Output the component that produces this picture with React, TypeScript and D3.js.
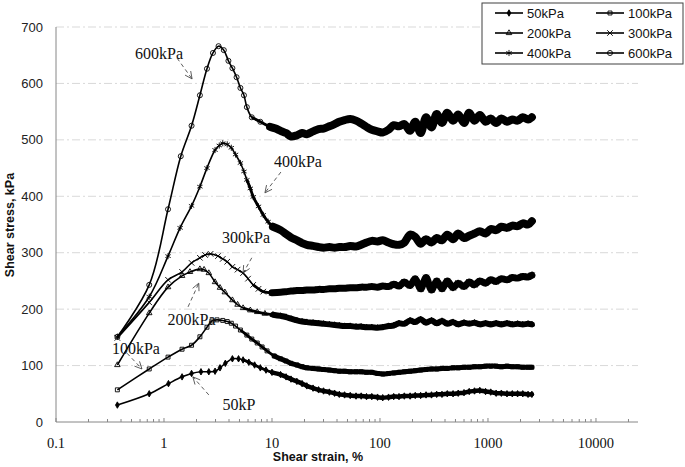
import * as d3 from 'd3';
import React from 'react';

// strains (%) shared by the noisy residual part of every curve
const strainTail = [12, 13.5, 15, 17, 19, 21, 24, 27, 30, 34, 38, 42, 47, 53, 60, 67, 75, 84, 95, 106,
    120, 134, 150, 168, 190, 212, 238, 267, 300, 335, 375, 420, 475, 530, 600, 670, 750, 840, 950, 1060,
    1190, 1330, 1500, 1680, 1880, 2100, 2350, 2550];

// 50kPa
const strain50 = [0.37, 0.73, 1.1, 1.47, 1.8, 2.2, 2.6, 2.97, 3.3, 3.7, 4.3, 4.9, 5.4, 6.1, 6.9, 7.8, 8.8, 10];
const stress50 = [30, 50, 68, 80, 86, 89, 89, 90, 96, 104, 112, 112, 110, 106, 101, 96, 92, 88];
const tail50 = [84, 80, 76, 72, 68, 64, 60, 57, 55, 53, 51, 49, 48, 47, 46, 46, 45, 45, 44, 43,
    44, 45, 45, 46, 46, 47, 47, 48, 48, 49, 49, 50, 50, 51, 52, 54, 55, 56, 54, 53,
    51, 51, 50, 50, 50, 50, 49, 49];

// 100kPa
const strain100 = [0.37, 0.73, 1.09, 1.47, 1.8, 2.15, 2.5, 2.78, 3.1, 3.5, 3.85, 4.2, 4.6, 5.1, 5.85, 6.5, 7.3, 8.1, 9.0, 10.5];
const stress100 = [57, 94, 115, 129, 136, 151, 168, 179, 181, 180, 178, 175, 170, 163, 154, 147, 140, 133, 126, 117];
const tail100 = [112, 108, 104, 101, 98, 96, 95, 94, 93, 92, 91, 90, 90, 89, 89, 89, 88, 88, 86, 85,
    86, 87, 88, 89, 90, 91, 92, 93, 94, 94, 95, 95, 96, 96, 97, 97, 98, 98, 99, 99,
    99, 98, 99, 98, 98, 97, 97, 97];

// 200kPa
const strain200 = [0.37, 0.73, 1.09, 1.47, 1.74, 2.15, 2.35, 2.6, 2.97, 3.3, 3.66, 4.3, 4.8, 5.4, 6.3, 7.3, 8.6, 10.2];
const stress200 = [101, 193, 239, 259, 266, 271, 270, 264, 248, 238, 230, 216, 208, 202, 198, 195, 192, 190];
const tail200 = [188, 186, 183, 180, 178, 177, 176, 175, 174, 173, 172, 171, 170, 170, 169, 169, 168, 168, 167, 168,
    170, 171, 175, 174, 180, 177, 182, 176, 180, 175, 179, 174, 177, 173, 176, 174, 176, 173, 175, 173,
    175, 173, 175, 173, 174, 173, 174, 173];

// 300kPa
const strain300 = [0.37, 0.73, 1.09, 1.47, 1.8, 2.15, 2.4, 2.7, 3.16, 3.5, 3.85, 4.3, 4.8, 5.4, 6.0, 6.7, 7.5, 8.3, 10];
const stress300 = [149, 212, 252, 266, 282, 291, 296, 298, 294, 289, 284, 275, 270, 264, 254, 243, 236, 231, 229];
const tail300 = [230, 231, 232, 233, 233, 234, 234, 235, 235, 236, 236, 237, 237, 238, 238, 239, 239, 240, 239, 241,
    240, 244, 241, 248, 242, 254, 236, 256, 234, 250, 236, 250, 238, 246, 240, 248, 243, 250, 246, 252,
    249, 254, 252, 256, 255, 258, 257, 260];

// 400kPa
const strain400 = [0.37, 0.73, 1.09, 1.41, 1.8, 2.15, 2.5, 2.97, 3.25, 3.5, 3.85, 4.2, 4.6, 5.1, 5.5, 5.85, 6.3, 6.7, 7.5, 8.3, 9.2, 10.2];
const stress400 = [151, 222, 294, 344, 383, 417, 450, 482, 490, 494, 492, 486, 474, 459, 444, 429, 414, 399, 382, 367, 355, 346];
const tail400 = [340, 333, 327, 322, 317, 314, 312, 310, 309, 310, 309, 310, 310, 312, 311, 314, 318, 321, 320, 322,
    318, 315, 314, 318, 332, 328, 316, 324, 318, 326, 322, 332, 324, 334, 326, 330, 334, 338, 334, 342,
    340, 346, 344, 348, 347, 352, 350, 356];

// 600kPa
const strain600 = [0.37, 0.73, 1.09, 1.43, 1.8, 2.15, 2.5, 2.84, 3.2, 3.58, 3.95, 4.3, 4.7, 5.1, 5.5, 5.85, 6.5, 7.8, 9.6, 10.8];
const stress600 = [151, 243, 377, 471, 525, 579, 626, 654, 666, 659, 640, 627, 611, 592, 579, 558, 540, 532, 523, 520];
const tail600 = [516, 512, 506, 508, 512, 510, 515, 519, 520, 524, 528, 532, 535, 537, 534, 529, 523, 518, 515, 513,
    518, 526, 524, 528, 516, 532, 512, 540, 522, 546, 530, 548, 534, 545, 530, 548, 534, 544, 532, 538,
    530, 538, 532, 536, 534, 540, 536, 540];

const yTicks = [0, 100, 200, 300, 400, 500, 600, 700];
const xTickLabels = [0.1, 1, 10, 100, 1000, 10000];

// annotation labels and arrows, in data units (strain %, stress kPa)
const notes = [
    { text: '600kPa', at: [0.9, 654], from: [1.32, 645], to: [1.82, 608] },
    { text: '400kPa', at: [17.4, 461], from: [12.1, 443], to: [8.6, 406] },
    { text: '300kPa', at: [5.75, 328], from: [6.5, 291], to: [5.4, 264] },
    { text: '200kPa', at: [1.8, 181], from: [1.67, 204], to: [2.1, 246] },
    { text: '100kPa', at: [0.55, 131], from: [0.454, 122], to: [0.625, 94] },
    { text: '50kP', at: [4.95, 32], from: [2.6, 48], to: [1.85, 80] },
];

const series = [
    { name: '50kPa', strain: [...strain50, ...strainTail], stress: [...stress50, ...tail50], marker: 'diamond', denseFrom: 5.4, band: 4.5 },
    { name: '100kPa', strain: [...strain100, ...strainTail], stress: [...stress100, ...tail100], marker: 'square', denseFrom: 5.1, band: 5 },
    { name: '200kPa', strain: [...strain200, ...strainTail], stress: [...stress200, ...tail200], marker: 'triangle', denseFrom: 5.4, band: 6 },
    { name: '300kPa', strain: [...strain300, ...strainTail], stress: [...stress300, ...tail300], marker: 'times', denseFrom: 6.7, band: 7 },
    { name: '400kPa', strain: [...strain400, ...strainTail], stress: [...stress400, ...tail400], marker: 'asterisk', denseFrom: 5.85, band: 8 },
    { name: '600kPa', strain: [...strain600, ...strainTail], stress: [...stress600, ...tail600], marker: 'circle', denseFrom: 6.5, band: 8 },
];

const symbolTypes: any = {
    diamond: d3.symbolDiamond,
    square: (d3 as any).symbolSquare2 || d3.symbolSquare,
    triangle: (d3 as any).symbolTriangle2 || d3.symbolTriangle,
    times: (d3 as any).symbolTimes || d3.symbolCross,
    asterisk: (d3 as any).symbolAsterisk || d3.symbolStar,
    circle: d3.symbolCircle,
};
const symbolSize: any = { diamond: 12, square: 20, triangle: 22, times: 22, asterisk: 26, circle: 20 };

const Marker = ({ kind, x, y }: any) => {
    const path = d3.symbol(symbolTypes[kind], symbolSize[kind])() || '';
    return (
        <path
            d={path}
            transform={`translate(${x},${y})`}
            fill={kind === 'diamond' ? '#000' : 'none'}
            stroke="#000"
            strokeWidth={0.9}
        />
    );
};

export default function App() {
    const width = 685;
    const height = 467;
    const x = d3.scaleLog().domain([0.1, 24500]).range([56, 638]);
    const y = d3.scaleLinear().domain([0, 700]).range([422, 27]);

    const line = d3.line<[number, number]>()
        .x((d) => x(d[0]))
        .y((d) => y(d[1]))
        .curve(d3.curveCatmullRom.alpha(0.5));

    const minorTicks = x.ticks();

    const arrowHead = (x1: number, y1: number, x2: number, y2: number) => {
        const a = Math.atan2(y2 - y1, x2 - x1);
        const len = 8;
        const spread = 0.45;
        const p1 = [x2 - len * Math.cos(a - spread), y2 - len * Math.sin(a - spread)];
        const p2 = [x2 - len * Math.cos(a + spread), y2 - len * Math.sin(a + spread)];
        return `M${p1[0]},${p1[1]}L${x2},${y2}L${p2[0]},${p2[1]}`;
    };

    const legendCols = [495, 596];
    const legendRows = [13, 33, 53];

    return (
        <svg width={width} height={height} style={{ position: 'absolute', left: 0, top: 0, background: '#fff' }}>
            {/* gridlines */}
            {yTicks.filter((t) => t > 0).map((t) => (
                <line key={t} x1={x.range()[0]} x2={x.range()[1]} y1={y(t)} y2={y(t)}
                    stroke="#d9d9d9" strokeWidth={1} strokeDasharray="8,3,2,3" />
            ))}

            {/* axes */}
            <line x1={x.range()[0]} x2={x.range()[0]} y1={y(700)} y2={y(0)} stroke="#868686" />
            <line x1={x.range()[0]} x2={x.range()[1]} y1={y(0)} y2={y(0)} stroke="#868686" />
            {minorTicks.map((t, i) => {
                const major = xTickLabels.includes(+t.toPrecision(3));
                return <line key={i} x1={x(t)} x2={x(t)} y1={y(0)} y2={y(0) - (major ? 4 : 3)} stroke="#868686" />;
            })}

            {yTicks.map((t) => (
                <text key={t} x={43} y={y(t)} dy="0.35em" textAnchor="end"
                    fontFamily="'Liberation Sans', Arial, sans-serif" fontSize={13} fill="#222">{t}</text>
            ))}
            {xTickLabels.map((t) => (
                <text key={t} x={x(t)} y={443} dy="0.35em" textAnchor="middle"
                    fontFamily="'Liberation Serif', 'Times New Roman', serif" fontSize={14.5} fill="#111">{t}</text>
            ))}

            <text x={318} y={457} dy="0.35em" textAnchor="middle" fontWeight="bold"
                fontFamily="'Liberation Sans', Arial, sans-serif" fontSize={12.5} fill="#111">Shear strain, %</text>
            <text transform="translate(10,225) rotate(-90)" dy="0.35em" textAnchor="middle" fontWeight="bold"
                fontFamily="'Liberation Sans', Arial, sans-serif" fontSize={12.5} fill="#111">Shear stress, kPa</text>

            {/* curves */}
            {series.map((s) => {
                const pts: [number, number][] = s.strain.map((v, i) => [v, s.stress[i]]);
                const dense = pts.filter((p) => p[0] >= s.denseFrom);
                const tail = pts.filter((p) => p[0] >= 9.5);
                return (
                    <g key={s.name}>
                        <path d={line(pts) || ''} fill="none" stroke="#000" strokeWidth={1.6} />
                        <path d={line(dense) || ''} fill="none" stroke="#000" strokeWidth={2.8} strokeLinejoin="round" />
                        <path d={line(tail) || ''} fill="none" stroke="#000" strokeWidth={s.band} strokeLinejoin="round" strokeLinecap="round" />
                        {pts.map((p, i) => <Marker key={i} kind={s.marker} x={x(p[0])} y={y(p[1])} />)}
                    </g>
                );
            })}

            {/* annotations */}
            {notes.map((n) => {
                const x1 = x(n.from[0]), y1 = y(n.from[1]), x2 = x(n.to[0]), y2 = y(n.to[1]);
                return (
                    <g key={n.text}>
                        <text x={x(n.at[0])} y={y(n.at[1])} dy="0.35em" textAnchor="middle"
                            fontFamily="'Liberation Serif', 'Times New Roman', serif" fontSize={16} fill="#111">{n.text}</text>
                        <line x1={x1} y1={y1} x2={x2} y2={y2} stroke="#333" strokeWidth={0.8} strokeDasharray="4,3" />
                        <path d={arrowHead(x1, y1, x2, y2)} fill="none" stroke="#333" strokeWidth={0.8} />
                    </g>
                );
            })}

            {/* legend */}
            <rect x={482} y={3} width={201} height={61} fill="#fff" stroke="#404040" strokeWidth={1} />
            {series.map((s, i) => {
                const lx = legendCols[i % 2];
                const ly = legendRows[Math.floor(i / 2)];
                return (
                    <g key={s.name}>
                        <line x1={lx} x2={lx + 28} y1={ly} y2={ly} stroke="#000" strokeWidth={1.6} />
                        <Marker kind={s.marker} x={lx + 14} y={ly} />
                        <text x={lx + 32} y={ly} dy="0.35em" fontFamily="'Liberation Sans', Arial, sans-serif"
                            fontSize={13} fill="#111">{s.name}</text>
                    </g>
                );
            })}
        </svg>
    );
}
